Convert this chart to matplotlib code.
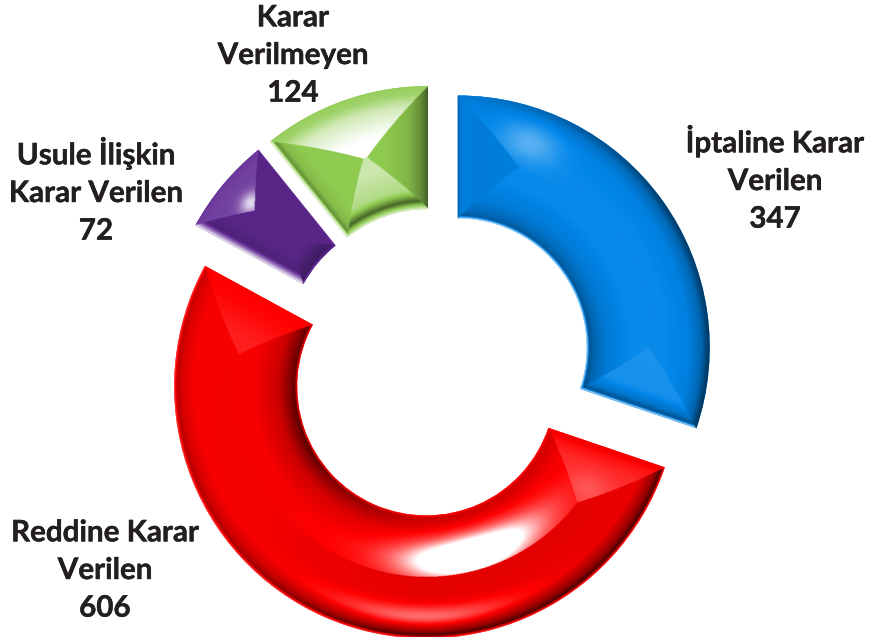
import matplotlib
matplotlib.use("Agg")
import matplotlib.pyplot as plt
import matplotlib.patheffects as pe
import numpy as np

# values and labels
labels = ["İptaline Karar\nVerilen", "Reddine Karar\nVerilen", "Usule İlişkin\nKarar Verilen", "Karar\nVerilmeyen"]
values = [347, 606, 72, 124]
colors = ["#0086ea", "#ff0000", "#622a96", "#8fcb50"]

W, H = 871, 637
R = 252.0
cx, cy = 436.6, 362.6
label_pos = [(775, 178), (105, 570), (96, 190), (293, 55)]

# bevel look: shade at distance (px) from the nearest edge, for each facet
D = [0, 3, 8, 20, 45, 130]
facets = [
    {"out": [-.6, -.5, -.25, -.05, .03, .05], "in": [.9, -.4, -.25, -.1, .03, .06],
     "hi": [-.25, -.1, -.05, -.08, -.06, -.04], "lo": [.9, -.4, -.15, .08, .1, .1]},
    {"out": [.25, -.7, -.4, -.08, -.1, -.12], "in": [.1, -.65, -.5, -.2, -.03, 0],
     "lo": [0, 0, 0, .03, .12, .15], "hi": [0, -.05, .05, .15, .22, .22]},
    {"out": [.05, .08, .1, .12, .15, .15], "in": [0, -.35, -.3, -.1, -.05, -.05],
     "hi": [.9, .4, -.2, -.1, -.1, -.1], "lo": [-.05, -.1, -.1, -.1, -.1, -.1]},
    {"out": [.05, .1, .15, .6, 1, 1], "in": [.7, .1, -.5, .3, .55, .35],
     "hi": [.8, -.3, -.08, 0, 0, 0], "lo": [-.6, -.45, -.3, -.1, 0, 0]},
]
# how strong the dark parts are along each wedge (0 = theta1 end, 1 = theta2 end)
dark_mod = [
    {"out": ([0, .5, 1], [1, .9, .15]), "in": ([0, 1], [1, .8])},
    {"out": ([0, .35, .6, 1], [.3, .45, 1, 1]), "in": ([0, .3, .6, 1], [.9, 1, .35, .25])},
    {},
    {},
]
# extra glints: facet, fraction along wedge, fraction across, sigma along, sigma across, strength
glints = [
    [("out", .82, .72, 30, 18, .35)],
    [("in", .70, .36, 58, 17, 1.7), ("in", .72, .4, 90, 22, .5), ("out", .62, .82, 85, 10, .5),
     ("hi", .93, .5, 18, 20, .12)],
    [("out", .46, .73, 12, 9, .7)],
    [],
]


def shade_wedge(ax, w, base, prof, mod, spots):
    x0, y0 = w.center
    ro = w.r
    ri = w.r - w.width
    t1, t2 = np.deg2rad(w.theta1), np.deg2rad(w.theta2)
    n = 2 * int(R * 2.4)
    xs = np.linspace(x0 - 1.2, x0 + 1.2, n)
    ys = np.linspace(y0 - 1.2, y0 + 1.2, n)
    X, Y = np.meshgrid(xs, ys)
    rho = np.hypot(X - x0, Y - y0)
    th = np.arctan2(Y - y0, X - x0)
    # angle measured from theta1, wrapped into 0..2pi
    a = np.mod(th - t1, 2 * np.pi)
    span = t2 - t1
    d = {
        "out": (ro - rho) * R,
        "in": (rho - ri) * R,
        "lo": rho * np.sin(np.clip(a, 0, np.pi / 2)) * R,
        "hi": rho * np.sin(np.clip(span - a, 0, np.pi / 2)) * R,
    }
    names = ["out", "in", "lo", "hi"]
    stack = np.stack([d[k] for k in names])
    which = np.argmin(stack, axis=0)
    s = np.zeros_like(X)
    for i, k in enumerate(names):
        m = which == i
        v = np.interp(d[k][m], D, prof[k])
        if k in mod:
            f = np.interp(a[m] / span, mod[k][0], mod[k][1])
            v = np.where(v < 0, v * f, v)
        s[m] = v
    for f, fa, fr, sa, sr, amt in spots:
        m = which == names.index(f)
        rc = ri + fr * (ro - ri)
        da = (a - fa * span) * rc * R
        dr = (rho - rc) * R
        s[m] += amt * np.exp(-(da[m] / sa) ** 2 - (dr[m] / sr) ** 2)
    s = np.clip(s, -1, 1)[..., None]
    c = np.array(matplotlib.colors.to_rgb(base))
    img = np.where(s > 0, c + (1 - c) * s, c * (1 + s))
    im = ax.imshow(img, origin="lower", extent=(xs[0], xs[-1], ys[0], ys[-1]),
                   interpolation="bilinear", zorder=3)
    im.set_clip_path(w)


fig = plt.figure(figsize=(W / 100, H / 100), dpi=100)
ax = fig.add_axes([0, 0, 1, 1])

wedges, _ = ax.pie(values, radius=1, startangle=90, counterclock=False, colors=colors,
                   explode=[26 / R] * 4, wedgeprops={"width": 123 / R, "linewidth": 0})

for i, w in enumerate(wedges):
    shade_wedge(ax, w, colors[i], facets[i], dark_mod[i], glints[i])

ax.set_xlim(-cx / R, (W - cx) / R)
ax.set_ylim((cy - H) / R, cy / R)
ax.axis("off")

for lab, v, p in zip(labels, values, label_pos):
    t = fig.text(p[0] / W, 1 - p[1] / H, lab + "\n" + str(v), ha="center", va="center", fontsize=21.3,
                 family="Lato", weight="bold", color="#231f20", linespacing=1.42)
    t.set_path_effects([pe.withStroke(linewidth=0.3, foreground="#231f20")])

fig.savefig("out.png", dpi=100, facecolor="white")
